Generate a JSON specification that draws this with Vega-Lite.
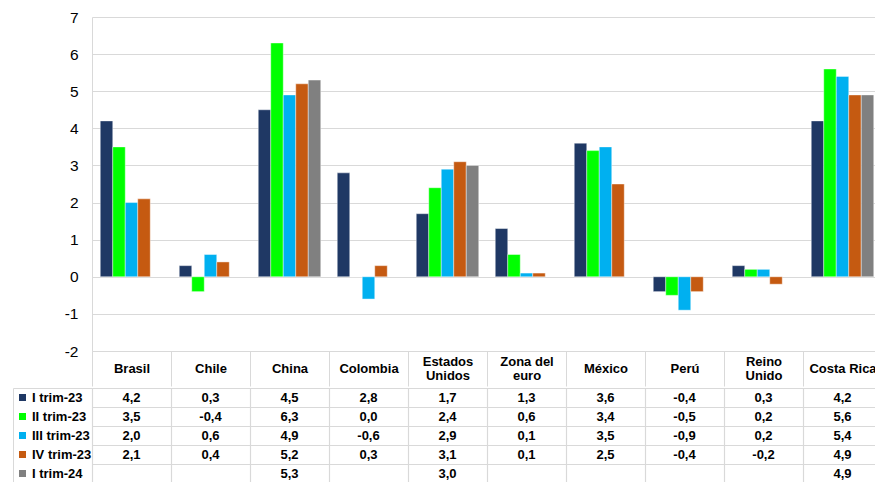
{
  "$schema": "https://vega.github.io/schema/vega-lite/v6.json",
  "padding": {"left": 12, "top": 10, "right": 0, "bottom": 0},
  "spacing": 0,
  "config": {
    "font": "Liberation Sans",
    "locale": {"number": {"decimal": ",", "thousands": ".", "grouping": [3], "currency": ["", " €"], "minus": "-"}},
    "view": {"stroke": null}
  },
  "data": {
    "values": [
      {"pais": "Brasil", "serie": "I trim-23", "valor": 4.2},
      {"pais": "Brasil", "serie": "II trim-23", "valor": 3.5},
      {"pais": "Brasil", "serie": "III trim-23", "valor": 2.0},
      {"pais": "Brasil", "serie": "IV trim-23", "valor": 2.1},
      {"pais": "Chile", "serie": "I trim-23", "valor": 0.3},
      {"pais": "Chile", "serie": "II trim-23", "valor": -0.4},
      {"pais": "Chile", "serie": "III trim-23", "valor": 0.6},
      {"pais": "Chile", "serie": "IV trim-23", "valor": 0.4},
      {"pais": "China", "serie": "I trim-23", "valor": 4.5},
      {"pais": "China", "serie": "II trim-23", "valor": 6.3},
      {"pais": "China", "serie": "III trim-23", "valor": 4.9},
      {"pais": "China", "serie": "IV trim-23", "valor": 5.2},
      {"pais": "China", "serie": "I trim-24", "valor": 5.3},
      {"pais": "Colombia", "serie": "I trim-23", "valor": 2.8},
      {"pais": "Colombia", "serie": "II trim-23", "valor": 0.0},
      {"pais": "Colombia", "serie": "III trim-23", "valor": -0.6},
      {"pais": "Colombia", "serie": "IV trim-23", "valor": 0.3},
      {"pais": "Estados Unidos", "serie": "I trim-23", "valor": 1.7},
      {"pais": "Estados Unidos", "serie": "II trim-23", "valor": 2.4},
      {"pais": "Estados Unidos", "serie": "III trim-23", "valor": 2.9},
      {"pais": "Estados Unidos", "serie": "IV trim-23", "valor": 3.1},
      {"pais": "Estados Unidos", "serie": "I trim-24", "valor": 3.0},
      {"pais": "Zona del euro", "serie": "I trim-23", "valor": 1.3},
      {"pais": "Zona del euro", "serie": "II trim-23", "valor": 0.6},
      {"pais": "Zona del euro", "serie": "III trim-23", "valor": 0.1},
      {"pais": "Zona del euro", "serie": "IV trim-23", "valor": 0.1},
      {"pais": "México", "serie": "I trim-23", "valor": 3.6},
      {"pais": "México", "serie": "II trim-23", "valor": 3.4},
      {"pais": "México", "serie": "III trim-23", "valor": 3.5},
      {"pais": "México", "serie": "IV trim-23", "valor": 2.5},
      {"pais": "Perú", "serie": "I trim-23", "valor": -0.4},
      {"pais": "Perú", "serie": "II trim-23", "valor": -0.5},
      {"pais": "Perú", "serie": "III trim-23", "valor": -0.9},
      {"pais": "Perú", "serie": "IV trim-23", "valor": -0.4},
      {"pais": "Reino Unido", "serie": "I trim-23", "valor": 0.3},
      {"pais": "Reino Unido", "serie": "II trim-23", "valor": 0.2},
      {"pais": "Reino Unido", "serie": "III trim-23", "valor": 0.2},
      {"pais": "Reino Unido", "serie": "IV trim-23", "valor": -0.2},
      {"pais": "Costa Rica", "serie": "I trim-23", "valor": 4.2},
      {"pais": "Costa Rica", "serie": "II trim-23", "valor": 5.6},
      {"pais": "Costa Rica", "serie": "III trim-23", "valor": 5.4},
      {"pais": "Costa Rica", "serie": "IV trim-23", "valor": 4.9},
      {"pais": "Costa Rica", "serie": "I trim-24", "valor": 4.9}
    ]
  },
  "resolve": {
    "scale": {"x": "independent", "color": "independent"},
    "legend": {"color": "independent"}
  },
  "vconcat": [
    {
      "width": 790,
      "height": 334,
      "mark": {"type": "bar", "stroke": "#ffffff", "strokeWidth": 0.6, "strokeOpacity": 0.7},
      "encoding": {
        "x": {
          "field": "pais",
          "type": "nominal",
          "sort": null,
          "scale": {
            "domain": ["Brasil", "Chile", "China", "Colombia", "Estados Unidos", "Zona del euro", "México", "Perú", "Reino Unido", "Costa Rica"],
            "paddingInner": 0,
            "paddingOuter": 0
          },
          "axis": {
            "title": null,
            "labelAngle": 0,
            "labelFontSize": 13,
            "labelFontWeight": "bold",
            "labelColor": "#000000",
            "labelBaseline": {
              "condition": {"test": "indexof(['Estados Unidos', 'Zona del euro', 'Reino Unido'], datum.value) >= 0", "value": "bottom"},
              "value": "middle"
            },
            "labelLineHeight": 14,
            "labelPadding": -18,
            "labelOverlap": false,
            "labelLimit": 0,
            "labelExpr": "datum.value == 'Estados Unidos' ? ['Estados', 'Unidos'] : datum.value == 'Zona del euro' ? ['Zona del', 'euro'] : datum.value == 'Reino Unido' ? ['Reino', 'Unido'] : datum.value",
            "ticks": true,
            "tickBand": "extent",
            "tickSize": 35,
            "tickColor": "#d9d9d9",
            "tickWidth": 1,
            "domainColor": "#d9d9d9",
            "grid": false
          }
        },
        "xOffset": {
          "field": "serie",
          "type": "nominal",
          "scale": {
            "domain": ["I trim-23", "II trim-23", "III trim-23", "IV trim-23", "I trim-24"],
            "paddingInner": 0,
            "paddingOuter": 0.66
          }
        },
        "y": {
          "field": "valor",
          "type": "quantitative",
          "scale": {"domain": [-2, 7], "nice": false},
          "axis": {
            "title": null,
            "values": [-2, -1, 0, 1, 2, 3, 4, 5, 6, 7],
            "format": "d",
            "labelFontSize": 15.5,
            "labelColor": "#000000",
            "labelPadding": 14,
            "ticks": false,
            "domainColor": "#d9d9d9",
            "grid": true,
            "gridColor": "#d9d9d9",
            "gridWidth": 1.2
          }
        },
        "color": {
          "field": "serie",
          "type": "nominal",
          "scale": {
            "domain": ["I trim-23", "II trim-23", "III trim-23", "IV trim-23", "I trim-24"],
            "range": ["#1f3864", "#00ff00", "#00b0f0", "#c55a11", "#808080"]
          },
          "legend": null
        }
      }
    },
    {
      "width": 790,
      "height": 95,
      "encoding": {
        "x": {
          "field": "pais",
          "type": "nominal",
          "sort": null,
          "scale": {
            "domain": ["Brasil", "Chile", "China", "Colombia", "Estados Unidos", "Zona del euro", "México", "Perú", "Reino Unido", "Costa Rica"],
            "paddingInner": 0,
            "paddingOuter": 0
          },
          "axis": {
            "title": null,
            "labels": false,
            "ticks": false,
            "domain": false,
            "grid": true,
            "tickBand": "extent",
            "gridColor": "#d9d9d9",
            "gridWidth": 1.2
          }
        },
        "y": {
          "field": "serie",
          "type": "nominal",
          "sort": null,
          "scale": {
            "domain": ["I trim-23", "II trim-23", "III trim-23", "IV trim-23", "I trim-24"],
            "paddingInner": 0,
            "paddingOuter": 0
          },
          "axis": {
            "title": null,
            "labels": false,
            "ticks": false,
            "domain": false,
            "grid": true,
            "tickBand": "extent",
            "gridColor": "#d9d9d9",
            "gridWidth": 1.2
          }
        }
      },
      "layer": [
        {
          "mark": {"type": "text", "fontSize": 13, "fontWeight": "bold", "color": "#000000"},
          "encoding": {
            "text": {"field": "valor", "type": "quantitative", "format": ".1f"}
          }
        },
        {
          "mark": {"type": "square", "opacity": 0},
          "encoding": {
            "color": {
              "field": "serie",
              "type": "nominal",
              "scale": {
                "domain": ["I trim-23", "II trim-23", "III trim-23", "IV trim-23", "I trim-24"],
                "range": ["#1f3864", "#00ff00", "#00b0f0", "#c55a11", "#808080"]
              },
              "legend": {
                "title": null,
                "orient": "left",
                "offset": 0,
                "padding": 0,
                "strokeColor": "#d9d9d9",
                "symbolType": "square",
                "symbolSize": 49,
                "symbolOpacity": 1,
                "symbolStrokeWidth": 0,
                "symbolOffset": 3,
                "labelFontSize": 13,
                "labelFontWeight": "bold",
                "labelColor": "#000000",
                "labelOffset": 3,
                "clipHeight": 19,
                "rowPadding": 0
              }
            }
          }
        }
      ]
    }
  ]
}
